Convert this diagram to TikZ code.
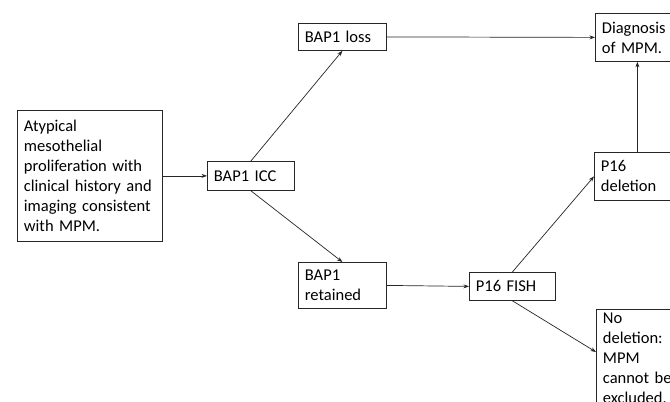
\documentclass[tikz,border=0pt]{standalone}
\usepackage{fontspec}
\setmainfont{Carlito}
\usetikzlibrary{arrows.meta,calc}
\begin{document}
\begin{tikzpicture}[x=1pt,y=-1pt,
  box/.style={draw=black!85, line width=0.8pt, anchor=north west, align=left,
    inner xsep=6.5pt, inner ysep=2pt, font=\fontsize{16.5}{20}\selectfont},
  conn/.style={line width=0.7pt, draw=black!85, -{Stealth[length=5.5pt,width=4pt]}}]
\useasboundingbox (0,0) rectangle (670,402);
\fill[white] (0,0) rectangle (670,402);
\clip (0,0) rectangle (670,402);
\node[box, text width=132pt, minimum height=131pt] (start) at (17,110)
  {Atypical\\mesothelial\\proliferation with\\clinical history and\\imaging consistent\\with MPM.};
\node[box, text width=74pt, minimum height=29pt] (icc) at (207,161) {BAP1 ICC};
\node[box, text width=75pt, minimum height=27pt] (loss) at (298,23) {BAP1 loss};
\node[box, text width=71pt, minimum height=48pt] (diag) at (595,13) {Diagnosis\\of MPM.};
\node[box, text width=73pt, minimum height=48pt] (del) at (594,152) {P16\\deletion};
\node[box, text width=75pt, minimum height=46pt] (ret) at (298,262) {BAP1\\retained};
\node[box, text width=73pt, minimum height=28pt] (fish) at (469,272) {P16 FISH};
\node[box, text width=72pt, inner ysep=4pt] (nodel) at (596,309)
  {No\\deletion:\\MPM\\cannot be\\excluded.};
\coordinate (nd) at ($(nodel.north west)+(0,43)$);
\draw[conn] (start.east) -- (icc.west);
\draw[conn] (icc.north) -- (loss.south);
\draw[conn] (icc.south) -- (ret.north);
\draw[conn] (loss.east) -- (diag.west);
\draw[conn] (del.north) -- (diag.south);
\draw[conn] (ret.east) -- (fish.west);
\draw[conn] (fish.north) -- (del.west);
\draw[conn] (fish.south) -- (nd);
\end{tikzpicture}
\end{document}
